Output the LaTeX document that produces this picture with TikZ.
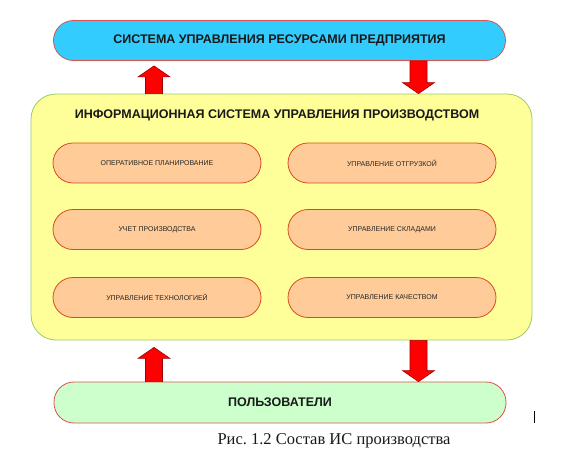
\documentclass[tikz,border=0pt]{standalone}
\usepackage{fontspec}
\setmainfont{Liberation Sans}
\newfontfamily\capfont{Liberation Serif}
\usetikzlibrary{calc}
\definecolor{bluefill}{HTML}{33CCFF}
\definecolor{pinkline}{HTML}{D9534F}
\definecolor{yellowfill}{HTML}{FFFF99}
\definecolor{greenline}{HTML}{9CCB6A}
\definecolor{orangefill}{HTML}{FFCC99}
\definecolor{orangeline}{HTML}{D94A1E}
\definecolor{greenfill}{HTML}{CCFFCC}
\definecolor{arrowred}{HTML}{FF0000}
\definecolor{arrowline}{HTML}{A00000}
\tikzset{
  bigbox/.style={draw=pinkline, line width=0.8pt, rounded corners=20pt,
    minimum width=452pt, minimum height=40pt, inner sep=0pt,
    font=\bfseries\fontsize{12.5}{14}\selectfont, text=black!90},
  pill/.style={draw=orangeline, line width=0.8pt, fill=orangefill, rounded corners=20pt,
    minimum width=208pt, minimum height=40pt, inner sep=0pt,
    font=\fontsize{7}{8}\selectfont, text=black!85},
  bigarrow/.style={draw=arrowline, line width=0.6pt, fill=arrowred}
}
\newcommand\fatarrow[2]{%
  \path[bigarrow] let \p1=(#1), \p2=(#2), \n1={ifthenelse(\y2>\y1,1,-1)} in
    (\x1-8.5pt,\y1) -- (\x1-8.5pt,\y2-\n1*11pt) -- (\x1-16pt,\y2-\n1*11pt) --
    (\x2,\y2) -- (\x1+16pt,\y2-\n1*11pt) -- (\x1+8.5pt,\y2-\n1*11pt) --
    (\x1+8.5pt,\y1) -- cycle;}
\begin{document}
\begin{tikzpicture}[x=1pt,y=-1pt]
\useasboundingbox[fill=white] (0,0) rectangle (568,460);
% boxes
\node[bigbox, fill=bluefill] (erp) at (279.5,40.5) {СИСТЕМА УПРАВЛЕНИЯ РЕСУРСАМИ ПРЕДПРИЯТИЯ};
\node[draw=greenline, line width=0.8pt, fill=yellowfill, rounded corners=25pt,
  minimum width=501pt, minimum height=246pt, inner sep=0pt] (mes) at (281.5,217) {};
\node[font=\bfseries\fontsize{12.5}{14}\selectfont, text=black!90] (mestitle) at (277,115)
  {ИНФОРМАЦИОННАЯ СИСТЕМА УПРАВЛЕНИЯ ПРОИЗВОДСТВОМ};
\node[pill] (p1) at (157,163) {ОПЕРАТИВНОЕ ПЛАНИРОВАНИЕ};
\node[pill] (p2) at (392,163) {УПРАВЛЕНИЕ ОТГРУЗКОЙ};
\node[pill] (p3) at (157,229.5) {УЧЕТ ПРОИЗВОДСТВА};
\node[pill] (p4) at (392,229.5) {УПРАВЛЕНИЕ СКЛАДАМИ};
\node[pill] (p5) at (157,297.5) {УПРАВЛЕНИЕ ТЕХНОЛОГИЕЙ};
\node[pill] (p6) at (392,297.5) {УПРАВЛЕНИЕ КАЧЕСТВОМ};
\node[bigbox, fill=greenfill, minimum height=41pt] (users) at (280,402.5) {ПОЛЬЗОВАТЕЛИ};
% arrow end points
\coordinate (a1s) at (mes.north -| 154,0);
\coordinate (a1e) at ($(erp.south -| 154,0)+(0,5)$);
\coordinate (a2s) at (erp.south -| 418.5,0);
\coordinate (a2e) at (mes.north -| 418.5,0);
\coordinate (a3s) at (users.north -| 154,0);
\coordinate (a3e) at ($(mes.south -| 154,0)+(0,7)$);
\coordinate (a4s) at (mes.south -| 418.5,0);
\coordinate (a4e) at (users.north -| 418.5,0);
\fatarrow{a1s}{a1e}
\fatarrow{a2s}{a2e}
\fatarrow{a3s}{a3e}
\fatarrow{a4s}{a4e}
% caption
\node[font=\capfont\fontsize{16.5}{18}\selectfont, text=black!90] (cap) at (334,441)
  {Рис.\ 1.2 Состав ИС производства};
\draw[line width=1pt] (534,411) -- (534,423);
\end{tikzpicture}
\end{document}
